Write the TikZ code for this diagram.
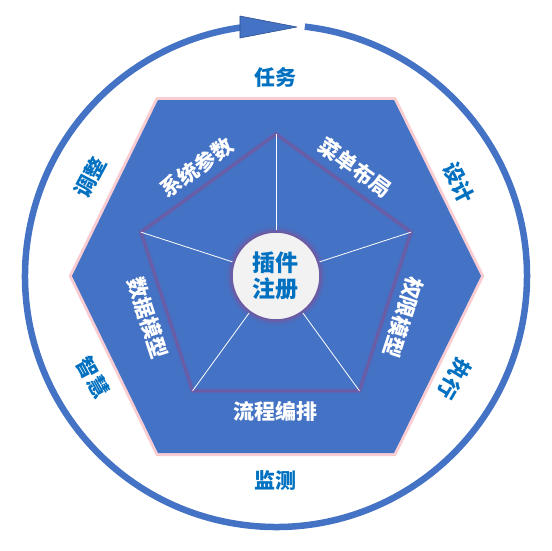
\documentclass[tikz,border=0pt]{standalone}
\usepackage{fontspec}
\newfontfamily\cjk{Noto Sans CJK SC}
\definecolor{hexblue}{HTML}{4472C4}
\definecolor{glowpink}{HTML}{F9CDD2}
\definecolor{pentedge}{HTML}{6C5CA6}
\definecolor{labelblue}{HTML}{0070C0}
\definecolor{hubfill}{HTML}{F2F2F2}
\definecolor{arrowedge}{HTML}{2F528F}

\begin{document}
\begin{tikzpicture}[
  x=1pt, y=1pt,
  ringlabel/.style={
    font=\cjk\bfseries\fontsize{21}{21}\selectfont,
    text=labelblue, inner sep=0pt
  },
  edgelabel/.style={
    font=\cjk\bfseries\fontsize{21}{21}\selectfont,
    text=white, inner sep=0pt
  },
  hub/.style={
    circle, draw=pentedge, line width=2.5pt, fill=hubfill,
    minimum size=89pt, inner sep=0pt, align=center,
    font=\cjk\bfseries\fontsize{23}{26}\selectfont, text=labelblue
  },
  spoke/.style={white, line width=0.8pt}
]
\useasboundingbox (-276,-274) rectangle (276,276);

% --- Ring with arrow ---
\draw[hexblue, line width=6.5pt] (83.4:251) arc[start angle=83.4, end angle=-261.8, radius=251];
\coordinate (tipbase) at (-36,249);
\coordinate (tip) at (21,249);
\draw[arrowedge, fill=hexblue, line width=0.6pt, line join=round]
  ([yshift=11]tipbase) -- ([yshift=-11]tipbase) -- (tip) -- cycle;

% --- Hexagon ---
\draw[glowpink, line width=6pt, line join=miter]
  (-118,176) -- (118,176) -- (205,0) -- (118,-177) -- (-118,-177) -- (-204,0) -- cycle;
\fill[hexblue]
  (-118,176) -- (118,176) -- (205,0) -- (118,-177) -- (-118,-177) -- (-204,0) -- cycle;

% --- Pentagon ---
\foreach \a [count=\i] in {90,18,-54,-126,162}
  \coordinate (p\i) at (\a:142);
\draw[pentedge, line width=5pt, opacity=0.35, line join=miter] (p1) -- (p2) -- (p3) -- (p4) -- (p5) -- cycle;
\draw[pentedge, line width=2.5pt, line join=miter] (p1) -- (p2) -- (p3) -- (p4) -- (p5) -- cycle;

% --- Hub and spokes ---
\node[hub] (hub) at (0,0) {插件\\注册};
\draw[pentedge, line width=5pt, opacity=0.3] (hub.center) circle[radius=46.5];
\foreach \i in {1,...,5}
  \draw[spoke] (hub) -- (p\i);

% --- Labels on the pentagon ---
\node[edgelabel, rotate=36]   (sys)  at (126:134) {系统参数};
\node[edgelabel, rotate=-36]  (menu) at (54:134)  {菜单布局};
\node[edgelabel, rotate=-108] (perm) at (-18:134) {权限模型};
\node[edgelabel]              (flow) at (-90:135) {流程编排};
\node[edgelabel, rotate=-72]  (data) at (198:135) {数据模型};

% --- Labels round the ring ---
\node[ringlabel]              (task)   at (90:199)  {任务};
\node[ringlabel, rotate=-63]  (design) at (27:205)  {设计};
\node[ringlabel, rotate=-120] (run)    at (-30:206) {执行};
\node[ringlabel]              (watch)  at (-90:205) {监测};
\node[ringlabel, rotate=-61]  (wise)   at (209:209) {智慧};
\node[ringlabel, rotate=62]   (tune)   at (152:210) {调整};
\end{tikzpicture}
\end{document}
